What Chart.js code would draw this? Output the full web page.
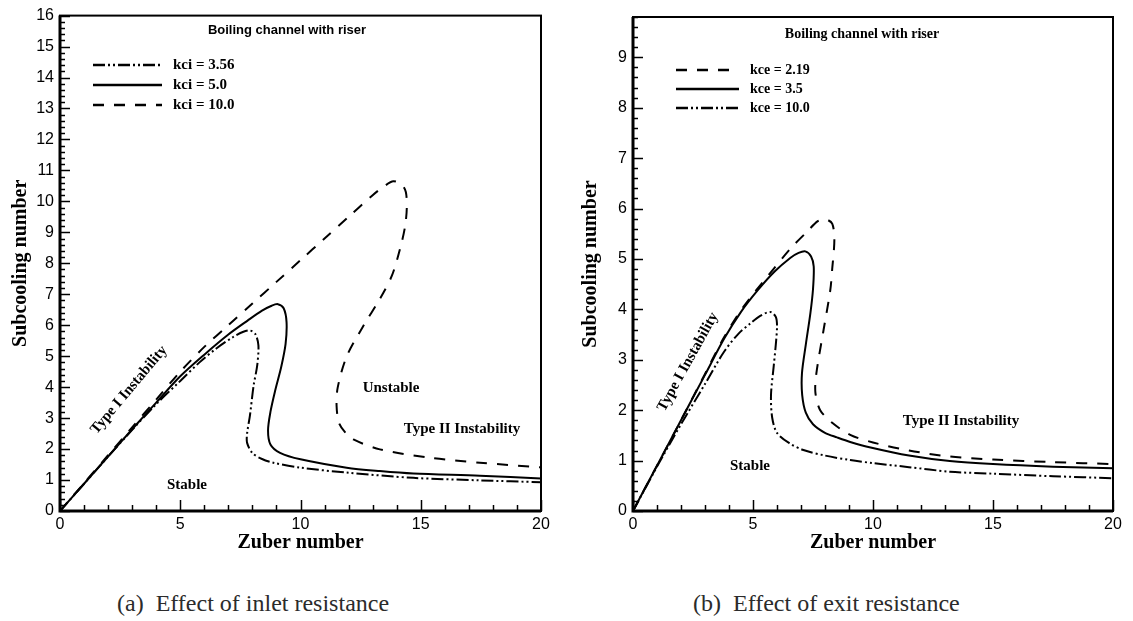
<!DOCTYPE html>
<html>
<head>
<meta charset="utf-8">
<title>Boiling channel with riser - stability maps</title>
<script src="https://cdn.jsdelivr.net/npm/chart.js@4.4.0/dist/chart.umd.min.js"></script>
<style>
  body { margin: 0; background: #fff; }
  #wrap { position: relative; width: 1133px; height: 621px; overflow: hidden; background: #fff; }
  canvas { position: absolute; top: 0; }
  #inlet { left: 0; }
  #exit { left: 570px; }
  .caption { position: absolute; top: 591px; font: 24px "Liberation Serif", "Times New Roman", serif;
             line-height: 24px; color: #2b2b2b; white-space: pre; }
</style>
</head>
<body>
<div id="wrap">
  <canvas id="inlet" width="570" height="560"></canvas>
  <canvas id="exit" width="563" height="560"></canvas>
  <div class="caption" style="left:117px">(a)  Effect of inlet resistance</div>
  <div class="caption" style="left:693px">(b)  Effect of exit resistance</div>
</div>
<script>
// Stability boundaries: Zuber number (x) vs subcooling number (y)

// (a) inlet resistance
const kci356Zu  = [0, 1, 2, 3, 4, 5, 5.8, 6.5, 7.2, 7.6, 7.9, 8.12, 8.25, 8.2, 8.05, 7.9, 7.78, 7.78, 8.0, 8.4, 8.87, 10.0, 11.92, 14.69, 17.46, 20];
const kci356Sub = [0, 0.88, 1.76, 2.62, 3.45, 4.2, 4.8, 5.25, 5.62, 5.78, 5.83, 5.72, 5.35, 4.7, 4.05, 3.1, 2.5, 2.2, 1.87, 1.68, 1.56, 1.4, 1.24, 1.07, 0.99, 0.93];

const kci50Zu  = [0, 1, 2, 3, 4, 5, 6, 7, 7.8, 8.4, 8.8, 9.06, 9.3, 9.42, 9.38, 9.2, 8.95, 8.75, 8.65, 8.75, 9.15, 10.0, 11.92, 13.3, 14.69, 17.46, 20];
const kci50Sub = [0, 0.88, 1.76, 2.64, 3.5, 4.35, 5.05, 5.7, 6.15, 6.47, 6.63, 6.68, 6.55, 6.1, 5.4, 4.66, 3.9, 3.2, 2.6, 2.15, 1.88, 1.67, 1.4, 1.29, 1.21, 1.14, 1.05];

const kci100Zu  = [0, 1, 2, 3, 4, 5, 6, 7, 8, 9, 10, 11, 12, 13, 13.5, 13.86, 14.2, 14.38, 14.42, 14.35, 14.15, 13.8, 13.3, 12.6, 11.92, 11.55, 11.5, 11.6, 11.85, 12.2, 13.3, 15.38, 17.46, 20];
const kci100Sub = [0, 0.9, 1.8, 2.7, 3.6, 4.5, 5.3, 6.0, 6.7, 7.4, 8.1, 8.8, 9.5, 10.2, 10.5, 10.65, 10.55, 10.3, 9.8, 9.2, 8.5, 7.6, 6.85, 5.96, 4.99, 4.0, 3.4, 2.85, 2.55, 2.31, 1.99, 1.72, 1.56, 1.41];

// (b) exit resistance
const kce219Zu  = [0, 1, 2, 3, 3.8, 4.6, 5.65, 6.55, 7.25, 7.7, 8.01, 8.3, 8.39, 8.3, 8.22, 7.94, 7.64, 7.6, 7.8, 8.3, 9.05, 10, 11.5, 13.2, 15, 17.5, 20];
const kce219Sub = [0, 0.9, 1.8, 2.72, 3.45, 4.05, 4.68, 5.2, 5.54, 5.75, 5.79, 5.7, 5.38, 4.8, 4.38, 3.59, 2.73, 2.35, 2.0, 1.75, 1.51, 1.36, 1.2, 1.08, 1.02, 0.97, 0.93];

const kce35Zu  = [0, 1, 2, 3, 3.8, 4.5, 5.2, 5.9, 6.55, 6.9, 7.18, 7.42, 7.53, 7.5, 7.39, 7.2, 7.04, 7.05, 7.2, 7.5, 8.0, 8.5, 9.05, 9.9, 11.5, 13.2, 15, 17.5, 20];
const kce35Sub = [0, 0.9, 1.8, 2.7, 3.42, 3.95, 4.38, 4.75, 5.02, 5.12, 5.15, 5.05, 4.85, 4.4, 3.92, 3.3, 2.73, 2.3, 1.95, 1.72, 1.55, 1.46, 1.37, 1.26, 1.1, 0.99, 0.93, 0.88, 0.85];

const kce100Zu  = [0, 1, 2, 3, 3.78, 4.4, 4.89, 5.3, 5.72, 5.95, 6.0, 5.95, 5.86, 5.75, 5.8, 6.0, 6.5, 7.1, 8, 9.05, 10, 11.5, 13.2, 15, 17.5, 20];
const kce100Sub = [0, 0.88, 1.72, 2.52, 3.15, 3.52, 3.72, 3.87, 3.95, 3.85, 3.66, 3.3, 2.86, 2.3, 1.85, 1.55, 1.35, 1.21, 1.1, 1.01, 0.95, 0.87, 0.78, 0.74, 0.69, 0.65];

const zuberTicks = { min: 0, max: 20, step: 5, minor: 1 };
const inletSubMax = 16;
const exitSubMax = 9.8;

const SERIF = '"Liberation Serif", "Times New Roman", serif';
const SANS = '"Liberation Sans", Arial, sans-serif';
const DASHED = [11, 10];
const DASH_DOT_DOT = [12, 3, 2, 3, 2, 3];

function pts(xs, ys) {
  return xs.map((x, i) => ({ x: x, y: ys[i] }));
}

function curve(label, xs, ys, dash) {
  return {
    label: label,
    data: pts(xs, ys),
    showLine: true,
    borderColor: '#000',
    borderWidth: 2,
    borderDash: dash,
    pointRadius: 0,
    tension: 0.3,
    fill: false
  };
}

// frame box with inward major/minor ticks on the left and bottom axes
const frameTicks = {
  id: 'frameTicks',
  afterDatasetsDraw(chart, args, opts) {
    const { ctx, chartArea: a, scales: { x, y } } = chart;
    ctx.save();
    ctx.strokeStyle = '#000';
    ctx.lineWidth = 1.5;
    const eps = 1e-6;
    for (let v = x.min; v <= x.max + eps; v += opts.xMinor) {
      const px = Math.round(x.getPixelForValue(v)) + 0.5;
      const major = Math.abs(v / opts.xMajor - Math.round(v / opts.xMajor)) < eps;
      ctx.beginPath();
      ctx.moveTo(px, a.bottom);
      ctx.lineTo(px, a.bottom - (major ? 11 : 6));
      ctx.stroke();
    }
    for (let i = 0; i * opts.yMinor <= y.max + eps; i++) {
      const v = i * opts.yMinor;
      const py = Math.round(y.getPixelForValue(v)) + 0.5;
      const major = Math.abs(v / opts.yMajor - Math.round(v / opts.yMajor)) < eps;
      ctx.beginPath();
      ctx.moveTo(a.left, py);
      ctx.lineTo(a.left + (major ? 10 : 5), py);
      ctx.stroke();
    }
    ctx.lineWidth = 2;
    ctx.strokeRect(a.left, a.top, a.right - a.left, a.bottom - a.top);
    ctx.lineWidth = 3;
    ctx.beginPath();
    ctx.moveTo(a.left, a.top);
    ctx.lineTo(a.left, a.bottom);
    ctx.lineTo(a.right, a.bottom);
    ctx.stroke();
    ctx.restore();
  }
};

// in-plot legend and region labels
const notes = {
  id: 'notes',
  afterDraw(chart, args, opts) {
    const ctx = chart.ctx;
    ctx.save();
    ctx.fillStyle = '#000';
    ctx.textBaseline = 'middle';
    const lg = opts.legend;
    chart.data.datasets.forEach((ds, i) => {
      const yy = lg.y + i * lg.dy;
      ctx.strokeStyle = '#000';
      ctx.lineWidth = 2.5;
      ctx.setLineDash(ds.borderDash || []);
      ctx.beginPath();
      ctx.moveTo(lg.x0, yy);
      ctx.lineTo(lg.x1, yy);
      ctx.stroke();
      ctx.setLineDash([]);
      ctx.font = lg.font;
      ctx.textAlign = 'left';
      ctx.fillText(ds.label, lg.textX, yy);
    });
    opts.items.forEach(t => {
      ctx.save();
      ctx.translate(t.x, t.y);
      if (t.rot) ctx.rotate(t.rot * Math.PI / 180);
      ctx.font = t.font;
      ctx.textAlign = 'center';
      ctx.fillText(t.text, 0, 0);
      ctx.restore();
    });
    ctx.restore();
  }
};

function axes(yMax, yWidth) {
  return {
    x: {
      type: 'linear', min: zuberTicks.min, max: zuberTicks.max,
      grid: { display: false, drawTicks: false }, border: { display: false },
      ticks: { stepSize: zuberTicks.step, padding: 4, color: '#000', maxRotation: 0,
               font: { family: SANS, size: 16 } },
      title: { display: true, text: 'Zuber number', color: '#000',
               font: { family: SERIF, size: 20, weight: 'bold' }, padding: { top: 0, bottom: 5 } },
      afterFit(s) { s.height = 49; }
    },
    y: {
      type: 'linear', min: 0, max: yMax,
      grid: { display: false, drawTicks: false }, border: { display: false },
      ticks: { stepSize: 1, includeBounds: false, padding: 6, color: '#000',
               font: { family: SANS, size: 16 } },
      title: { display: true, text: 'Subcooling number', color: '#000',
               font: { family: SERIF, size: 20, weight: 'bold' }, padding: { top: 9, bottom: 0 } },
      afterFit(s) { s.width = yWidth; }
    }
  };
}

const b15 = 'bold 15px ' + SERIF;

new Chart(document.getElementById('inlet'), {
  type: 'scatter',
  data: {
    datasets: [
      curve('kci = 3.56', kci356Zu, kci356Sub, DASH_DOT_DOT),
      curve('kci = 5.0', kci50Zu, kci50Sub, []),
      curve('kci = 10.0', kci100Zu, kci100Sub, DASHED)
    ]
  },
  options: {
    responsive: false,
    animation: false,
    layout: { padding: { left: 0, top: 15, right: 29, bottom: 0 } },
    scales: axes(inletSubMax, 60),
    plugins: {
      legend: { display: false },
      tooltip: { enabled: false },
      frameTicks: { xMinor: zuberTicks.minor, xMajor: zuberTicks.step, yMinor: 0.2, yMajor: 1 },
      notes: {
        legend: { x0: 93, x1: 162, textX: 173, y: 65, dy: 20, font: b15 },
        items: [
          { text: 'Boiling channel with riser', x: 287, y: 30, font: 'bold 13px ' + SANS },
          { text: 'Type I Instability', x: 129, y: 390, rot: -50, font: b15 },
          { text: 'Stable', x: 187, y: 485, font: b15 },
          { text: 'Unstable', x: 391, y: 388, font: b15 },
          { text: 'Type II Instability', x: 462, y: 429, font: b15 }
        ]
      }
    }
  },
  plugins: [frameTicks, notes]
});

new Chart(document.getElementById('exit'), {
  type: 'scatter',
  data: {
    datasets: [
      curve('kce = 2.19', kce219Zu, kce219Sub, DASHED),
      curve('kce = 3.5', kce35Zu, kce35Sub, []),
      curve('kce = 10.0', kce100Zu, kce100Sub, DASH_DOT_DOT)
    ]
  },
  options: {
    responsive: false,
    animation: false,
    layout: { padding: { left: 0, top: 17, right: 20, bottom: 0 } },
    scales: axes(exitSubMax, 63),
    plugins: {
      legend: { display: false },
      tooltip: { enabled: false },
      frameTicks: { xMinor: zuberTicks.minor, xMajor: zuberTicks.step, yMinor: 0.2, yMajor: 1 },
      notes: {
        legend: { x0: 106, x1: 169, textX: 180, y: 70, dy: 19, font: 'bold 14px ' + SERIF },
        items: [
          { text: 'Boiling channel with riser', x: 292, y: 34, font: 'bold 14px ' + SERIF },
          { text: 'Type I Instability', x: 118, y: 362, rot: -61, font: b15 },
          { text: 'Stable', x: 180, y: 466, font: b15 },
          { text: 'Type II Instability', x: 391, y: 421, font: b15 }
        ]
      }
    }
  },
  plugins: [frameTicks, notes]
});
</script>
</body>
</html>
